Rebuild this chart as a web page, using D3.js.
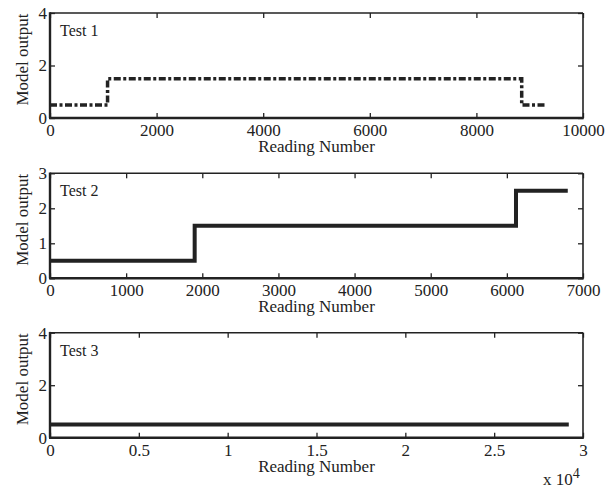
<!DOCTYPE html>
<html>
<head>
<meta charset="utf-8">
<script src="https://cdn.jsdelivr.net/npm/d3@7"></script>
<style>
  body { margin: 0; background: #fff; }
  text { font-family: "Liberation Serif", "Times New Roman", serif; fill: #222; }
</style>
</head>
<body>
<div id="chart-area"></div>
<script>
const W = 614, H = 489
const LEFT = 50, RIGHT = 583, PH = 105
const TOPS = [13, 173.3, 332.7]

// data (step series: value holds until next reading)
const test1Reading = [0, 1080, 8850, 9300]
const test1Output = [0.5, 1.5, 0.5, 0.5]
const test2Reading = [0, 1900, 6120, 6800]
const test2Output = [0.5, 1.5, 2.5, 2.5]
const test3Reading = [0, 29200]
const test3Output = [0.5, 0.5]

const xTicks1 = [0, 2000, 4000, 6000, 8000, 10000]
const yTicks1 = [0, 2, 4]
const xTicks2 = [0, 1000, 2000, 3000, 4000, 5000, 6000, 7000]
const yTicks2 = [0, 1, 2, 3]
const xTicks3 = [0, 5000, 10000, 15000, 20000, 25000, 30000]
const yTicks3 = [0, 2, 4]

const panels = [
  { name: "Test 1", xs: test1Reading, ys: test1Output, xMax: 10000, yMax: 4,
    xTicks: xTicks1, yTicks: yTicks1, fmt: d => d, dash: "7,2.5,3,2.5", width: 3.5 },
  { name: "Test 2", xs: test2Reading, ys: test2Output, xMax: 7000, yMax: 3,
    xTicks: xTicks2, yTicks: yTicks2, fmt: d => d, dash: null, width: 4 },
  { name: "Test 3", xs: test3Reading, ys: test3Output, xMax: 30000, yMax: 4,
    xTicks: xTicks3, yTicks: yTicks3, fmt: d => d / 10000, dash: null, width: 4 }
]

const svg = d3.select("#chart-area").append("svg")
  .attr("width", W)
  .attr("height", H)

panels.forEach((p, i) => {
  const top = TOPS[i]
  const g = svg.append("g").attr("transform", `translate(0, ${top})`)

  const x = d3.scaleLinear().domain([0, p.xMax]).range([LEFT, RIGHT])
  const y = d3.scaleLinear().domain([0, p.yMax]).range([PH, 0])

  // inward ticks on all four sides
  const bottom = g.append("g")
    .attr("transform", `translate(0, ${PH})`)
    .call(d3.axisBottom(x).tickValues(p.xTicks).tickFormat(p.fmt).tickSize(-5).tickSizeOuter(0))
  bottom.selectAll("text").attr("y", 6).attr("dy", "0.71em")

  g.append("g")
    .attr("transform", `translate(${LEFT}, 0)`)
    .call(d3.axisLeft(y).tickValues(p.yTicks).tickFormat(d => d).tickSize(-5).tickPadding(3).tickSizeOuter(0))

  g.append("g")
    .call(d3.axisTop(x).tickValues(p.xTicks).tickFormat("").tickSize(-5).tickSizeOuter(0))
  g.append("g")
    .attr("transform", `translate(${RIGHT}, 0)`)
    .call(d3.axisRight(y).tickValues(p.yTicks).tickFormat("").tickSize(-5).tickSizeOuter(0))

  g.selectAll(".domain").remove()
  g.selectAll(".tick line").attr("stroke", "#222").attr("stroke-width", 1.3)
  g.selectAll(".tick text").style("font-size", "17px").attr("fill", "#222")

  // frame: heavier left/bottom spines
  g.append("line").attr("x1", LEFT).attr("x2", RIGHT).attr("y1", 0).attr("y2", 0)
    .attr("stroke", "#222").attr("stroke-width", 1.6)
  g.append("line").attr("x1", RIGHT).attr("x2", RIGHT).attr("y1", 0).attr("y2", PH)
    .attr("stroke", "#222").attr("stroke-width", 1.6)
  g.append("line").attr("x1", LEFT - 1).attr("x2", RIGHT + 0.8).attr("y1", PH).attr("y2", PH)
    .attr("stroke", "#222").attr("stroke-width", 2.4)
  g.append("line").attr("x1", LEFT).attr("x2", LEFT).attr("y1", -0.8).attr("y2", PH)
    .attr("stroke", "#222").attr("stroke-width", 2.4)

  const line = d3.line()
    .x(d => x(d[0]))
    .y(d => y(d[1]))
    .curve(d3.curveStepAfter)

  g.append("path")
    .datum(p.xs.map((v, k) => [v, p.ys[k]]))
    .attr("d", line)
    .attr("fill", "none")
    .attr("stroke", "#222")
    .attr("stroke-width", p.width)
    .attr("stroke-dasharray", p.dash)

  g.append("text")
    .attr("x", 60)
    .attr("y", 23)
    .style("font-size", "16px")
    .text(p.name)

  g.append("text")
    .attr("x", (LEFT + RIGHT) / 2)
    .attr("y", PH + 34)
    .attr("text-anchor", "middle")
    .style("font-size", "17px")
    .text("Reading Number")

  g.append("text")
    .attr("transform", `translate(28, ${PH / 2 - 6}) rotate(-90)`)
    .attr("text-anchor", "middle")
    .style("font-size", "17px")
    .text("Model output")
})

// exponent for the bottom panel
const ex = svg.append("text")
  .attr("x", 543)
  .attr("y", 485)
  .style("font-size", "17px")
ex.append("tspan").text("x 10")
ex.append("tspan").attr("dy", -7).style("font-size", "14px").text("4")
</script>
</body>
</html>
